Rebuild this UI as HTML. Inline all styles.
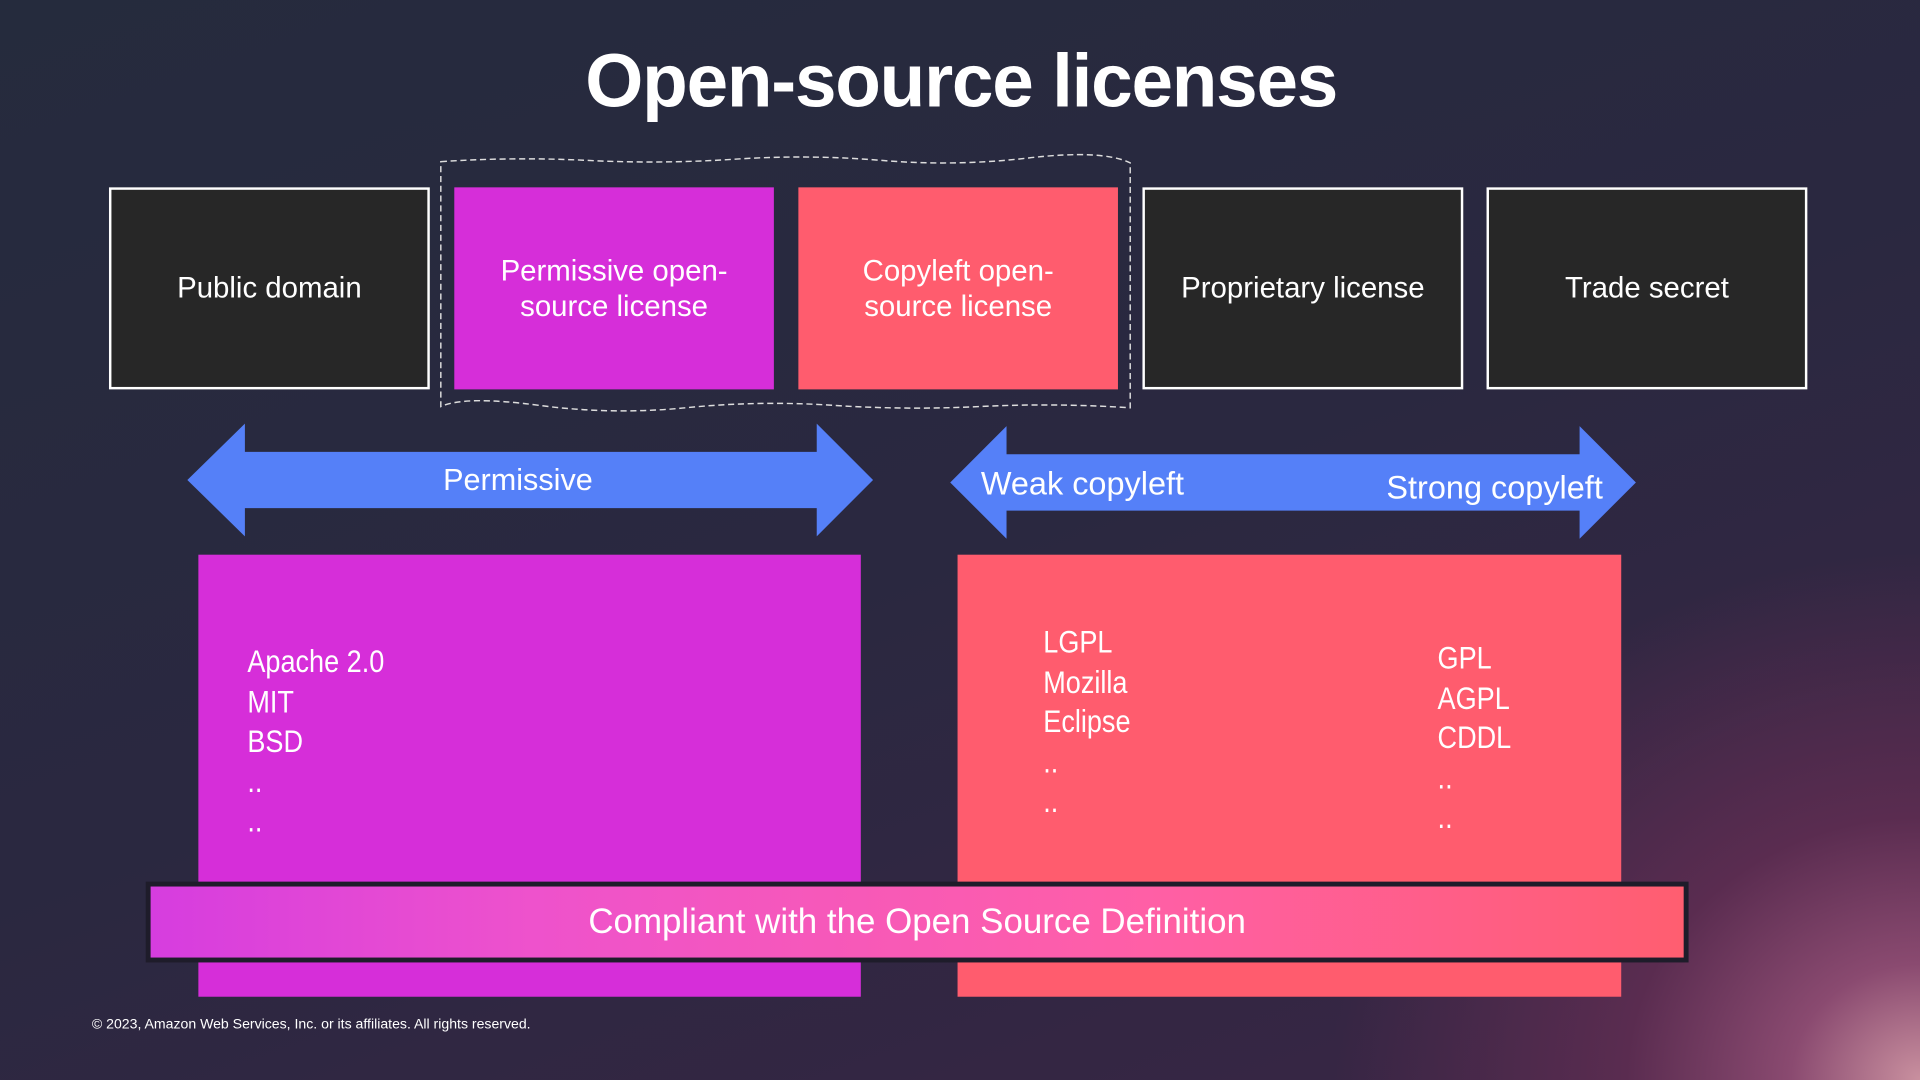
<!DOCTYPE html>
<html><head><meta charset="utf-8"><style>
html,body{margin:0;padding:0;width:1920px;height:1080px;overflow:hidden;background:#262a3c}
#s{position:absolute;left:0;top:0;width:1568px;height:882px;transform:scale(1.22449);transform-origin:0 0;
background:radial-gradient(ellipse 480px 430px at 1568px 882px,#c9909f 0%,#8a4a70 22%,#5a2c50 50%,rgba(60,35,70,0) 100%),linear-gradient(160deg,#252b3d 0%,#2a2840 50%,#3a2545 100%);
font-family:"Liberation Sans",sans-serif;color:#fff}
.a{position:absolute}
.box{position:absolute;top:153px;height:165px;box-sizing:border-box;display:flex;align-items:center;justify-content:center;text-align:center;font-size:24px;line-height:29px}
.dk{background:#272727;border:2px solid #fff}
.lst{position:absolute;font-size:26px;line-height:32.5px;transform:scaleX(0.85);transform-origin:0 0}
</style></head><body><div id="s">
<div class="a" style="left:0;width:1570px;top:31px;text-align:center;font-size:61px;font-weight:bold;letter-spacing:-1px">Open-source licenses</div>
<svg class="a" style="left:0;top:0" width="1568" height="882">
<path d="M360 132 Q420 128 480 131 T600 130 T720 131 T840 129 T923 133 L923 333 Q860 329 800 332 T680 331 T560 333 T440 331 T360 332 Z" fill="none" stroke="#ddd" stroke-width="1.2" stroke-dasharray="5 3"/>
<polygon points="153,392 200,346 200,369 667,369 667,346 713,392 667,438 667,415 200,415 200,438" fill="#5580f8"/>
<polygon points="776,394 822,348 822,371 1290,371 1290,348 1336,394 1290,440 1290,417 822,417 822,440" fill="#5580f8"/>
</svg>
<div class="box dk" style="left:89px;width:262px">Public domain</div>
<div class="box" style="left:371px;width:261px;background:#d62ed9">Permissive open-<br>source license</div>
<div class="box" style="left:652px;width:261px;background:#ff5c6e">Copyleft open-<br>source license</div>
<div class="box dk" style="left:933px;width:262px">Proprietary license</div>
<div class="box dk" style="left:1214px;width:262px">Trade secret</div>
<div class="a" style="left:153px;width:540px;top:378px;text-align:center;font-size:25px">Permissive</div>
<div class="a" style="left:801px;top:380px;font-size:26.5px">Weak copyleft</div>
<div class="a" style="left:1100px;width:209px;top:383px;text-align:right;font-size:26.5px">Strong copyleft</div>
<div class="a" style="left:162px;top:453px;width:541px;height:361px;background:#d62ed9"></div>
<div class="a" style="left:782px;top:453px;width:542px;height:361px;background:#ff5c6e"></div>
<div class="lst" style="left:202px;top:524px">Apache 2.0<br>MIT<br>BSD<br>..<br>..</div>
<div class="lst" style="left:852px;top:508px">LGPL<br>Mozilla<br>Eclipse<br>..<br>..</div>
<div class="lst" style="left:1174px;top:521px">GPL<br>AGPL<br>CDDL<br>..<br>..</div>
<div class="a" style="left:119px;top:720px;width:1260px;height:66px;background:#1e1c2a"></div>
<div class="a" style="left:123px;top:724px;width:1252px;height:58px;background:linear-gradient(90deg,#d63ddf 0%,#ee52cc 25%,#ff5fa6 65%,#ff5e70 100%);display:flex;align-items:center;justify-content:center;font-size:28.5px">Compliant with the Open Source Definition</div>
<div class="a" style="left:75px;top:831px;font-size:11.5px">© 2023, Amazon Web Services, Inc. or its affiliates. All rights reserved.</div>
</div></body></html>
